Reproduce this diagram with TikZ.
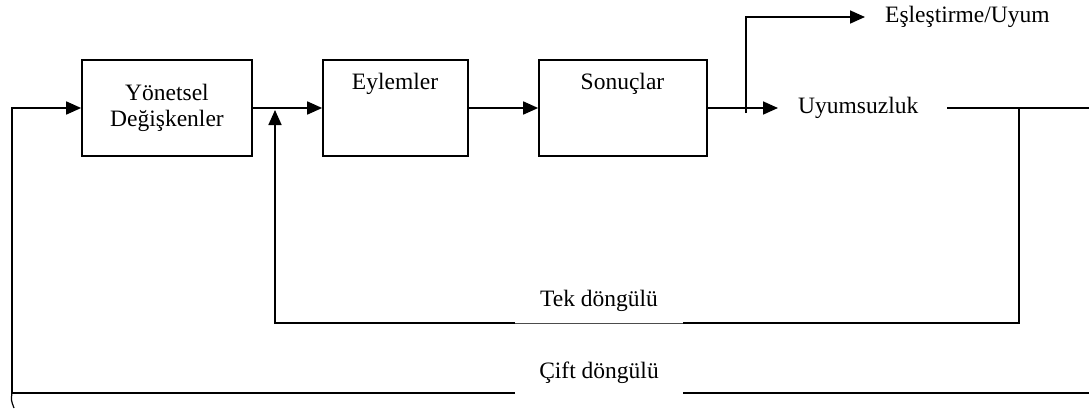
\documentclass[tikz,border=0pt]{standalone}
\usepackage{fontspec}
\setmainfont{Liberation Serif}
\usetikzlibrary{arrows.meta}
\begin{document}
\begin{tikzpicture}[x=1pt,y=-1pt,
  wire/.style={line width=1.7pt},
  thinwire/.style={line width=0.8pt, black!70},
  flow/.style={line width=1.7pt, -{Triangle[length=15pt,width=13pt]}},
  block/.style={draw, line width=1.7pt, minimum height=96pt, inner sep=0pt},
  lbl/.style={font=\fontsize{23.5}{26}\selectfont, inner sep=0pt},
]
\useasboundingbox (0,0) rectangle (1089,408);

% blocks of the chain
\node[block, minimum width=170pt, lbl, align=center] (yd) at (167,108) {Yönetsel\\Değişkenler};
\node[block, minimum width=145pt] (eyl) at (395.5,108) {};
\node[block, minimum width=168pt] (son) at (623,108) {};
\node[lbl] (eylt) at (395,84) {Eylemler};
\node[lbl] (sont) at (622.5,84) {Sonuçlar};

% outputs
\node[lbl, anchor=west] (uy) at (798,108) {Uyumsuzluk};
\node[lbl, anchor=west] (es) at (885,17) {Eşleştirme/Uyum};
\node[lbl] (tek) at (599,301) {Tek döngülü};
\node[lbl] (cift) at (599,373) {Çift döngülü};

% helper points
\coordinate (tipU) at (778,108);
\coordinate (brA) at (746,113);
\coordinate (brB) at (746,17);
\coordinate (tipE) at (865,17);
\coordinate (uS) at (947,108);
\coordinate (uE) at (1089,108);
\coordinate (j1) at (1019,108);
\coordinate (j1d) at (1019,323);
\coordinate (tR) at (683,323);
\coordinate (tL) at (515,323);
\coordinate (tC) at (275,323);
\coordinate (tTip) at (275,110);
\coordinate (cR0) at (1089,393);
\coordinate (cR) at (683,393);
\coordinate (cL) at (515,393);
\coordinate (cC) at (12,393);
\coordinate (cU) at (12,108);
\coordinate (cT) at (14,408);

% forward chain
\draw[flow] (yd.east) -- (eyl.west);
\draw[flow] (eyl.east) -- (son.west);
\draw[flow] (son.east) -- (tipU);
\draw[flow] (brA) -- (brB) -- (tipE);
\draw[wire] (uS) -- (uE);

% single loop
\draw[wire] (j1) -- (j1d) -- (tR);
\draw[thinwire] (tR) -- (tL);
\draw[flow] (tL) -- (tC) -- (tTip);

% double loop
\draw[wire] (cR0) -- (cR);
\draw[flow] (cL) -- (cC) -- (cU) -- (yd.west);
\draw[line width=1.2pt] (cC) .. controls (11,400) .. (cT);
\end{tikzpicture}
\end{document}
